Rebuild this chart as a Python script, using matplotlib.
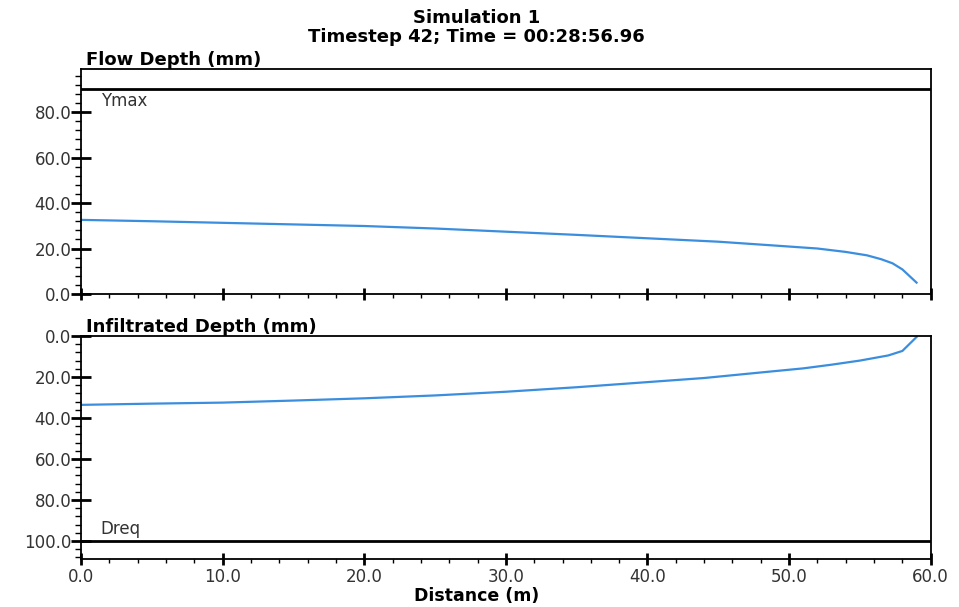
import numpy as np
import matplotlib
matplotlib.use("Agg")
import matplotlib.pyplot as plt
from matplotlib.ticker import MultipleLocator, FormatStrFormatter

plt.rcParams['font.family'] = ['DejaVu Sans']

# Flow depth profile (mm) vs distance (m)
flow_x = [0, 5, 10, 15, 20, 25, 30, 35, 40, 45, 49, 52, 54, 55.5, 56.5, 57.3, 58, 59]
flow_y = [32.6, 32.0, 31.3, 30.6, 29.9, 28.8, 27.4, 26.0, 24.5, 23.0, 21.3,
          20.0, 18.5, 17.0, 15.3, 13.5, 10.8, 5.0]

# Infiltrated depth profile (mm) vs distance (m)
infil_x = [0, 5, 10, 15, 20, 25, 30, 35, 40, 44, 48, 51, 53, 55, 57, 58, 59]
infil_y = [33.6, 33.0, 32.5, 31.5, 30.4, 29.0, 27.2, 25.0, 22.5, 20.5, 17.8,
           15.8, 14.0, 12.0, 9.5, 7.3, 0.5]

ymax = 90.0
dreq = 100.0

title = "Simulation 1\nTimestep 42; Time = 00:28:56.96"
line_color = '#3b8ede'
tick_color = '#333333'

fig = plt.figure(figsize=(9.59, 6.07), dpi=100)
ax1 = fig.add_axes([0.0845, 0.5157, 0.886, 0.3707])
ax2 = fig.add_axes([0.0845, 0.0783, 0.886, 0.3682])


def style_axis(ax):
    ax.set_xlim(0, 60)
    ax.xaxis.set_major_locator(MultipleLocator(10))
    ax.xaxis.set_minor_locator(MultipleLocator(2))
    ax.yaxis.set_major_locator(MultipleLocator(20))
    ax.yaxis.set_minor_locator(MultipleLocator(4))
    ax.xaxis.set_major_formatter(FormatStrFormatter('%.1f'))
    ax.yaxis.set_major_formatter(FormatStrFormatter('%.1f'))
    ax.tick_params(axis='y', which='major', direction='inout', length=14,
                   width=2, pad=0, labelsize=12, labelcolor=tick_color)
    ax.tick_params(axis='y', which='minor', direction='out', length=4.5, width=1)
    ax.tick_params(axis='x', which='major', direction='inout', length=9,
                   width=2, pad=2, labelsize=12, labelcolor=tick_color)
    ax.tick_params(axis='x', which='minor', direction='out', length=3, width=1)
    for s in ax.spines.values():
        s.set_linewidth(1.3)


# top panel: flow depth
style_axis(ax1)
ax1.set_ylim(0, 99)
ax1.plot(flow_x, flow_y, color=line_color, lw=1.6)
ax1.axhline(ymax, color='black', lw=2)
ax1.text(1.4, ymax - 1.0, "Ymax", ha='left', va='top', fontsize=12, color=tick_color)
ax1.tick_params(axis='x', labelbottom=False)

# bottom panel: infiltrated depth (inverted)
style_axis(ax2)
ax2.set_ylim(109, 0)
ax2.plot(infil_x, infil_y, color=line_color, lw=1.6)
ax2.axhline(dreq, color='black', lw=2)
ax2.text(1.4, dreq - 1.5, "Dreq", ha='left', va='bottom', fontsize=12, color=tick_color)

fig.text(0.0895, 0.901, "Flow Depth (mm)", fontsize=13, fontweight='bold',
         ha='left', va='center')
fig.text(0.0895, 0.462, "Infiltrated Depth (mm)", fontsize=13, fontweight='bold',
         ha='left', va='center')
fig.text(0.497, 0.955, title, fontsize=13, fontweight='bold', ha='center',
         va='center', linespacing=1.05)
fig.text(0.497, 0.0105, "Distance (m)", fontsize=12.5, fontweight='bold',
         ha='center', va='baseline')

fig.savefig("out.png", dpi=100)
